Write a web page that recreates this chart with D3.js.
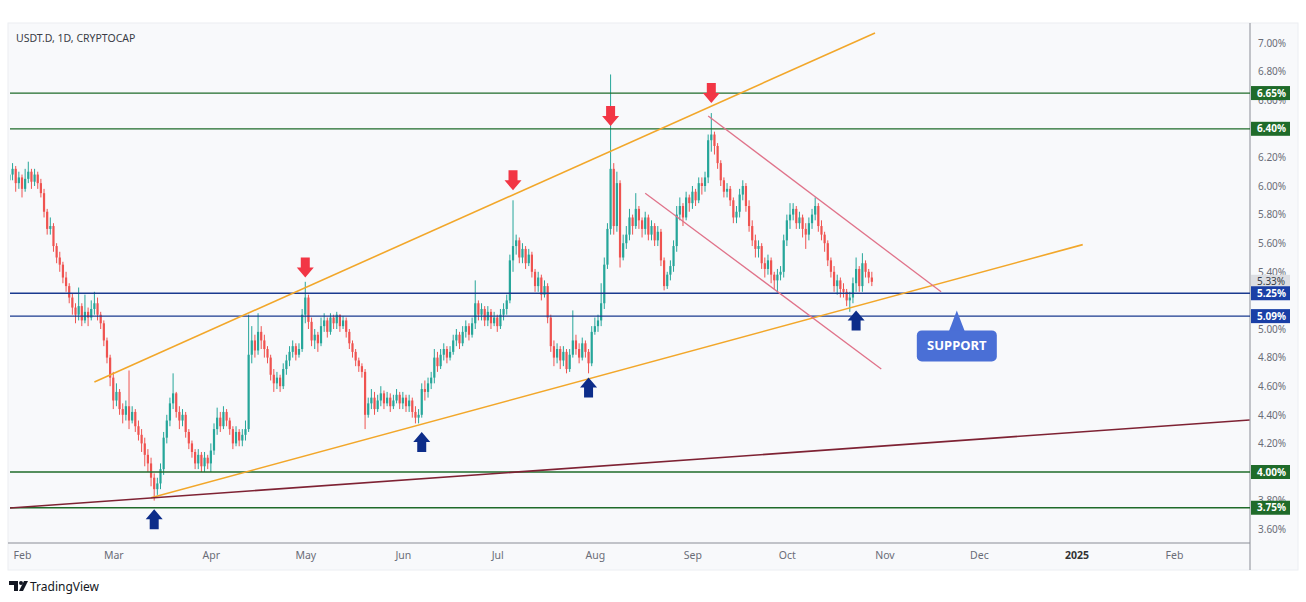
<!DOCTYPE html>
<html>
<head>
<meta charset="utf-8">
<script src="https://cdn.jsdelivr.net/npm/d3@7"></script>
<style>
    body { margin: 0; background: #fff; }
    svg { display: block; font-family: "Noto Sans", "DejaVu Sans", sans-serif; }
</style>
</head>
<body>
<svg id="chart" width="1306" height="602"></svg>
<script>
// daily candles, USDT.D, starting 2024-01-28
const firstDay = new Date(Date.UTC(2024, 0, 28));
const firstOpen = 6.04;

const closes = [
    6.08, 6.12, 6.02, 6.06,
    5.98, 6.05, 6.10, 6.03, 6.08, 6.02, 5.95, 5.82, 5.70, 5.72, 5.58, 5.50, 5.45, 5.36, 5.30, 5.22, 5.15, 5.10, 5.16, 5.06, 5.12, 5.08, 5.14, 5.18, 5.10, 5.04, 4.92, 4.80, 4.66,
    4.50, 4.56, 4.44, 4.40, 4.46, 4.36, 4.42, 4.32, 4.26, 4.20, 4.12, 4.06, 3.96, 3.88, 3.92, 4.02, 4.24, 4.36, 4.48, 4.55, 4.42, 4.36, 4.40, 4.28, 4.20, 4.14, 4.06, 4.12, 4.04, 4.10, 4.06,
    4.15, 4.30, 4.38, 4.32, 4.42, 4.36, 4.30, 4.20, 4.28, 4.22, 4.26, 4.30, 4.82, 4.92, 4.85, 4.98, 4.92, 4.86, 4.80, 4.68, 4.62, 4.66, 4.60, 4.72, 4.78, 4.84, 4.88, 4.82, 4.86, 5.10,
    5.22, 5.05, 4.92, 4.96, 4.90, 5.02, 5.06, 4.98, 5.08, 5.04, 5.10, 5.02, 5.06, 4.98, 4.90, 4.84, 4.78, 4.74, 4.70, 4.40, 4.48, 4.52, 4.44, 4.50, 4.55, 4.48, 4.52, 4.46, 4.50, 4.54, 4.48,
    4.52, 4.46, 4.50, 4.42, 4.38, 4.40, 4.58, 4.56, 4.62, 4.66, 4.80, 4.74, 4.82, 4.86, 4.80, 4.84, 4.92, 4.96, 4.90, 4.98, 5.02, 4.96, 5.04, 5.18, 5.10, 5.14, 5.06, 5.12, 5.04, 5.08,
    5.02, 5.10, 5.14, 5.20, 5.48, 5.58, 5.62, 5.50, 5.56, 5.46, 5.52, 5.40, 5.30, 5.36, 5.24, 5.30, 5.08, 4.88, 4.80, 4.86, 4.78, 4.84, 4.72, 4.82, 4.92, 4.86, 4.80, 4.90, 4.84, 4.76, 4.98,
    5.02, 5.06, 5.18, 5.45, 5.70, 6.12, 5.72, 6.02, 5.50, 5.60, 5.66, 5.78, 5.72, 5.84, 5.76, 5.70, 5.78, 5.66, 5.72, 5.62, 5.68, 5.48, 5.30, 5.38, 5.44, 5.58, 5.80, 5.86, 5.78, 5.92, 5.88,
    5.96, 5.90, 6.02, 6.00, 6.06, 6.32, 6.36, 6.28, 6.16, 6.04, 5.96, 5.98, 5.90, 5.78, 5.82, 5.94, 6.00, 5.86, 5.72, 5.62, 5.56, 5.58, 5.46, 5.42, 5.48, 5.38, 5.34, 5.38, 5.40, 5.62,
    5.76, 5.80, 5.84, 5.74, 5.78, 5.70, 5.66, 5.74, 5.80, 5.86, 5.72, 5.66, 5.60, 5.48, 5.40, 5.30, 5.34, 5.28, 5.26, 5.20, 5.22, 5.32, 5.42, 5.30, 5.46, 5.40, 5.36, 5.33
];

const highs = [
    6.14, 6.16, 6.14, 6.10,
    6.08, 6.12, 6.17, 6.12, 6.12, 6.10, 6.05, 5.98, 5.84, 5.78, 5.74, 5.60, 5.54, 5.47, 5.40, 5.32, 5.25, 5.18, 5.29, 5.18, 5.24, 5.15, 5.20, 5.26, 5.22, 5.12, 5.06, 4.94, 4.82,
    4.70, 4.62, 4.58, 4.48, 4.50, 4.71, 4.46, 4.44, 4.36, 4.30, 4.24, 4.16, 4.10, 3.99, 3.96, 4.06, 4.28, 4.40, 4.52, 4.69, 4.56, 4.46, 4.44, 4.42, 4.30, 4.22, 4.16, 4.16, 4.14, 4.14, 4.12,
    4.20, 4.34, 4.45, 4.42, 4.46, 4.44, 4.38, 4.32, 4.32, 4.30, 4.30, 4.36, 5.10, 5.02, 4.96, 5.11, 5.02, 4.96, 4.88, 4.82, 4.72, 4.70, 4.68, 4.76, 4.82, 4.88, 4.92, 4.90, 4.90, 5.14,
    5.33, 5.24, 5.08, 5.00, 4.98, 5.08, 5.11, 5.08, 5.11, 5.10, 5.12, 5.10, 5.09, 5.08, 5.00, 4.92, 4.86, 4.80, 4.76, 4.72, 4.52, 4.58, 4.56, 4.54, 4.60, 4.57, 4.56, 4.55, 4.54, 4.58, 4.56,
    4.56, 4.54, 4.54, 4.52, 4.46, 4.44, 4.62, 4.64, 4.66, 4.70, 4.86, 4.84, 4.86, 4.90, 4.88, 4.88, 4.96, 5.00, 4.98, 5.02, 5.06, 5.04, 5.08, 5.34, 5.20, 5.18, 5.16, 5.16, 5.14, 5.12,
    5.10, 5.14, 5.18, 5.24, 5.52, 5.90, 5.66, 5.64, 5.60, 5.58, 5.56, 5.54, 5.42, 5.40, 5.38, 5.34, 5.32, 5.10, 4.92, 4.90, 4.88, 4.88, 4.86, 4.86, 5.13, 4.96, 4.90, 4.94, 4.92, 4.86, 5.02,
    5.08, 5.10, 5.32, 5.50, 5.74, 6.78, 6.16, 6.10, 6.04, 5.66, 5.72, 5.84, 5.80, 5.95, 5.86, 5.78, 5.82, 5.80, 5.76, 5.74, 5.72, 5.70, 5.50, 5.40, 5.48, 5.62, 5.86, 5.92, 5.88, 5.96, 5.94,
    6.00, 5.98, 6.06, 6.06, 6.10, 6.36, 6.51, 6.38, 6.30, 6.18, 6.06, 6.02, 6.00, 5.92, 5.86, 5.98, 6.04, 6.02, 5.90, 5.76, 5.66, 5.62, 5.60, 5.50, 5.52, 5.50, 5.40, 5.42, 5.44, 5.66,
    5.80, 5.88, 5.88, 5.86, 5.82, 5.80, 5.74, 5.78, 5.84, 5.92, 5.88, 5.76, 5.68, 5.62, 5.50, 5.44, 5.38, 5.36, 5.32, 5.28, 5.26, 5.36, 5.50, 5.44, 5.53, 5.48, 5.42, 5.40
];

const lows = [
    6.00, 6.04, 5.96, 5.98,
    5.92, 5.96, 6.02, 5.98, 6.00, 5.98, 5.92, 5.78, 5.66, 5.66, 5.54, 5.46, 5.40, 5.32, 5.26, 5.18, 5.10, 5.04, 5.06, 5.02, 5.04, 5.02, 5.06, 5.10, 5.06, 5.00, 4.88, 4.76, 4.60,
    4.44, 4.46, 4.40, 4.34, 4.36, 4.30, 4.34, 4.28, 4.22, 4.14, 4.04, 4.00, 3.90, 3.80, 3.84, 3.88, 3.98, 4.20, 4.32, 4.44, 4.38, 4.30, 4.32, 4.24, 4.16, 4.10, 4.02, 4.02, 4.00, 4.00, 4.02,
    4.00, 4.12, 4.26, 4.28, 4.30, 4.32, 4.26, 4.16, 4.18, 4.18, 4.18, 4.22, 4.28, 4.76, 4.80, 4.82, 4.86, 4.80, 4.76, 4.64, 4.56, 4.58, 4.56, 4.58, 4.68, 4.74, 4.80, 4.78, 4.80, 4.84,
    5.04, 5.00, 4.88, 4.86, 4.84, 4.88, 4.98, 4.94, 4.96, 5.00, 5.00, 4.98, 5.00, 4.94, 4.86, 4.80, 4.74, 4.70, 4.66, 4.30, 4.38, 4.44, 4.40, 4.42, 4.46, 4.44, 4.46, 4.42, 4.44, 4.48, 4.44,
    4.44, 4.42, 4.42, 4.38, 4.34, 4.34, 4.38, 4.50, 4.52, 4.58, 4.62, 4.70, 4.72, 4.78, 4.76, 4.78, 4.82, 4.88, 4.86, 4.88, 4.94, 4.92, 4.94, 5.00, 5.06, 5.06, 5.02, 5.02, 5.00, 5.02,
    4.98, 5.00, 5.06, 5.10, 5.18, 5.40, 5.52, 5.46, 5.46, 5.42, 5.44, 5.36, 5.26, 5.26, 5.20, 5.22, 5.04, 4.84, 4.74, 4.76, 4.72, 4.74, 4.69, 4.70, 4.80, 4.82, 4.76, 4.78, 4.80, 4.69, 4.74,
    4.96, 4.98, 5.02, 5.14, 5.42, 5.66, 5.66, 5.68, 5.43, 5.48, 5.56, 5.62, 5.66, 5.70, 5.70, 5.64, 5.66, 5.62, 5.62, 5.58, 5.58, 5.44, 5.27, 5.28, 5.34, 5.40, 5.54, 5.76, 5.72, 5.76, 5.82,
    5.84, 5.86, 5.88, 5.94, 5.96, 6.02, 6.24, 6.22, 6.12, 6.00, 5.92, 5.92, 5.86, 5.74, 5.74, 5.78, 5.90, 5.82, 5.68, 5.58, 5.50, 5.50, 5.42, 5.36, 5.38, 5.32, 5.28, 5.25, 5.34, 5.36,
    5.58, 5.70, 5.76, 5.70, 5.70, 5.64, 5.56, 5.62, 5.70, 5.76, 5.68, 5.62, 5.54, 5.44, 5.36, 5.26, 5.24, 5.22, 5.22, 5.16, 5.12, 5.18, 5.26, 5.26, 5.26, 5.36, 5.32, 5.30
];

// axis ticks
const priceTicks = [3.6, 3.8, 4.2, 4.4, 4.6, 4.8, 5.0, 5.4, 5.6, 5.8, 6.0, 6.2, 6.6, 6.8, 7.0];
const monthLabels = ['Feb', 'Mar', 'Apr', 'May', 'Jun', 'Jul', 'Aug', 'Sep', 'Oct', 'Nov', 'Dec', '2025', 'Feb'];
const monthDates = ['2024-02-01', '2024-03-01', '2024-04-01', '2024-05-01', '2024-06-01', '2024-07-01',
    '2024-08-01', '2024-09-01', '2024-10-01', '2024-11-01', '2024-12-01', '2025-01-01', '2025-02-01'];

// horizontal levels
const levels = [6.65, 6.40, 5.25, 5.09, 4.00, 3.75];
const levelKinds = ['green', 'green', 'blue', 'blue', 'green', 'green'];
const lastPrice = 5.33;

// trend lines [date, price, date, price]
const trendLines = [
    ['2024-02-24', 4.63, '2024-10-29', 7.07, 'orange'],
    ['2024-03-13', 3.82, '2025-01-03', 5.59, 'orange'],
    ['2024-01-28', 3.748, '2025-02-25', 4.364, 'maroon'],
    ['2024-09-06', 6.49, '2024-11-19', 5.26, 'pink'],
    ['2024-08-17', 5.95, '2024-10-31', 4.72, 'pink']
];

// arrows: date, tip price
const redArrows = [['2024-05-01', 5.36], ['2024-07-06', 5.97], ['2024-08-06', 6.42], ['2024-09-07', 6.58]];
const blueArrows = [['2024-03-14', 3.74], ['2024-06-07', 4.28], ['2024-07-30', 4.66], ['2024-10-23', 5.13]];
const supportAt = ['2024-11-24', 5.13];

const colors = {
    up: '#26a69a', down: '#ef5350',
    green: '#1f6b2a', blue: '#1a3a8f',
    orange: '#f2a72a', maroon: '#7e2233', pink: '#e0738a'
};

const plot = { left: 10, right: 1250, top: 25, bottom: 543 };
const parse = d3.utcParse('%Y-%m-%d');

const svg = d3.select('#chart');

// chart card
svg.append('rect')
    .attr('x', 8).attr('y', 23).attr('width', 1290).attr('height', 547)
    .attr('fill', '#f8f9fb').attr('stroke', '#eceef2');

const x = d3.scaleUtc()
    .domain([parse('2024-02-01'), parse('2025-02-01')])
    .range([22, 1174]);

const y = d3.scaleLinear()
    .domain([4, 7])
    .range([472, 43]);

const candles = closes.map((c, i) => {
    const o = i === 0 ? firstOpen : closes[i - 1];
    return {
        date: d3.utcDay.offset(firstDay, i),
        o: o, c: c,
        h: Math.max(highs[i], o, c),
        l: Math.min(lows[i], o, c)
    };
});

// axis lines
svg.append('line')
    .attr('x1', plot.right).attr('x2', plot.right)
    .attr('y1', 23).attr('y2', 570)
    .attr('stroke', '#8a8d96').attr('stroke-width', 1);
svg.append('line')
    .attr('x1', 8).attr('x2', plot.right)
    .attr('y1', plot.bottom).attr('y2', plot.bottom)
    .attr('stroke', '#8a8d96').attr('stroke-width', 1);

// bottom axis
const xAxis = d3.axisBottom(x)
    .tickValues(monthDates.map(parse))
    .tickFormat((d, i) => monthLabels[i])
    .tickSize(0).tickPadding(0);

const gx = svg.append('g')
    .attr('transform', `translate(0, ${plot.bottom + 9})`)
    .call(xAxis);
gx.select('.domain').remove();
gx.selectAll('text')
    .attr('font-size', 10.5)
    .attr('font-family', '"Noto Sans", sans-serif')
    .attr('font-weight', (d, i) => monthLabels[i] === '2025' ? 'bold' : 'normal')
    .attr('fill', (d, i) => monthLabels[i] === '2025' ? '#333' : '#6a6d78');

// right axis
const yAxis = d3.axisRight(y)
    .tickValues(priceTicks)
    .tickFormat(d => d3.format('.2f')(d) + '%')
    .tickSize(0).tickPadding(0);

const gy = svg.append('g')
    .attr('transform', `translate(${plot.right + 8}, 0)`)
    .call(yAxis);
gy.select('.domain').remove();
gy.selectAll('text')
    .attr('font-size', 10)
    .attr('font-family', '"Noto Sans", sans-serif')
    .attr('fill', '#6a6d78');

// title
svg.append('text')
    .attr('x', 16).attr('y', 42)
    .attr('font-size', 10.5)
    .attr('fill', '#3a3d46')
    .text('USDT.D, 1D, CRYPTOCAP');

svg.append('clipPath').attr('id', 'plotClip')
    .append('rect')
    .attr('x', plot.left).attr('y', plot.top)
    .attr('width', plot.right - plot.left).attr('height', plot.bottom - plot.top);

const g = svg.append('g').attr('clip-path', 'url(#plotClip)');

// candles
const bw = 2.2;
const cg = g.append('g');
cg.selectAll('.wick')
    .data(candles)
    .enter()
    .append('line')
    .attr('class', 'wick')
    .attr('x1', d => x(d.date)).attr('x2', d => x(d.date))
    .attr('y1', d => y(d.h)).attr('y2', d => y(d.l))
    .attr('stroke', d => d.c >= d.o ? colors.up : colors.down)
    .attr('stroke-width', 1);
cg.selectAll('.body')
    .data(candles)
    .enter()
    .append('rect')
    .attr('class', 'body')
    .attr('x', d => x(d.date) - bw / 2)
    .attr('width', bw)
    .attr('y', d => y(Math.max(d.o, d.c)))
    .attr('height', d => Math.max(1, Math.abs(y(d.o) - y(d.c))))
    .attr('fill', d => d.c >= d.o ? colors.up : colors.down);

// horizontal levels
g.selectAll('.level')
    .data(levels)
    .enter()
    .append('line')
    .attr('class', 'level')
    .attr('x1', plot.left).attr('x2', plot.right)
    .attr('y1', d => y(d)).attr('y2', d => y(d))
    .attr('stroke', (d, i) => colors[levelKinds[i]])
    .attr('stroke-width', 1.3);

// trend lines
g.selectAll('.trend')
    .data(trendLines)
    .enter()
    .append('line')
    .attr('class', 'trend')
    .attr('x1', d => x(parse(d[0]))).attr('y1', d => y(d[1]))
    .attr('x2', d => x(parse(d[2]))).attr('y2', d => y(d[3]))
    .attr('stroke', d => colors[d[4]])
    .attr('stroke-width', d => d[4] === 'pink' ? 1.3 : 1.6);

// arrows
function arrowPath(cx, tipY, dir) {
    // dir 1: pointing down (body above tip), -1: pointing up
    const hw = 8.5, sw = 4.5, hh = 10, total = 20;
    const b = tipY - dir * hh;
    const e = tipY - dir * total;
    return `M${cx},${tipY} L${cx - hw},${b} L${cx - sw},${b} L${cx - sw},${e} ` +
        `L${cx + sw},${e} L${cx + sw},${b} L${cx + hw},${b} Z`;
}

svg.selectAll('.red-arrow')
    .data(redArrows)
    .enter()
    .append('path')
    .attr('d', d => arrowPath(x(parse(d[0])), y(d[1]), 1))
    .attr('fill', '#f23645');

svg.selectAll('.blue-arrow')
    .data(blueArrows)
    .enter()
    .append('path')
    .attr('d', d => arrowPath(x(parse(d[0])), y(d[1]), -1))
    .attr('fill', '#0d2d8a');

// support callout
const sx = x(parse(supportAt[0]));
const sy = y(supportAt[1]);
const callout = svg.append('g');
callout.append('path')
    .attr('d', `M${sx},${sy} L${sx + 8},${sy + 21} L${sx - 8},${sy + 21} Z`)
    .attr('fill', '#4a6fd6');
callout.append('rect')
    .attr('x', sx - 40).attr('y', sy + 20)
    .attr('width', 80).attr('height', 31).attr('rx', 5)
    .attr('fill', '#4a6fd6');
callout.append('text')
    .attr('x', sx).attr('y', sy + 40)
    .attr('text-anchor', 'middle')
    .attr('font-size', 13)
    .attr('font-weight', 'bold')
    .attr('fill', '#fff')
    .text('SUPPORT');

// price labels on the axis
const labelG = svg.append('g');
const allLabels = [{ v: lastPrice, kind: 'last' }].concat(levels.map((v, i) => ({ v: v, kind: levelKinds[i] })));
const labelFill = { green: '#1f6b2a', blue: '#1a3fa6', last: '#dcdee3' };

labelG.selectAll('rect')
    .data(allLabels)
    .enter()
    .append('rect')
    .attr('x', plot.right + 1).attr('y', d => y(d.v) - 7)
    .attr('width', 39).attr('height', 14)
    .attr('fill', d => labelFill[d.kind]);

labelG.selectAll('text')
    .data(allLabels)
    .enter()
    .append('text')
    .attr('x', plot.right + 7).attr('y', d => y(d.v) + 3.5)
    .attr('font-size', 10)
    .attr('font-weight', d => d.kind === 'last' ? 'normal' : 'bold')
    .attr('fill', d => d.kind === 'last' ? '#3a3d46' : '#fff')
    .text(d => d3.format('.2f')(d.v) + '%');

// TradingView mark
const logo = svg.append('g').attr('fill', '#131722');
logo.append('path').attr('d', 'M9,581 H18 V591 H14 V585 H9 Z');
logo.append('circle').attr('cx', 21).attr('cy', 583).attr('r', 2);
logo.append('path').attr('d', 'M19,591 L24,581 H28 L23,591 Z');
svg.append('text')
    .attr('x', 30).attr('y', 591)
    .attr('font-size', 12)
    .attr('fill', '#131722')
    .text('TradingView');
</script>
</body>
</html>
